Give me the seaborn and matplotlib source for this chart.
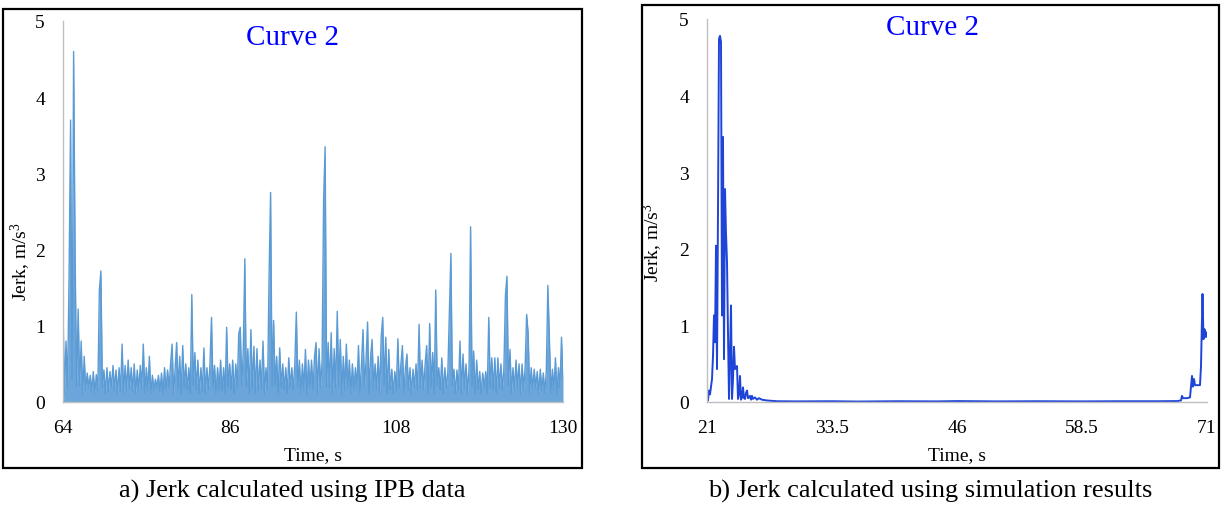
import numpy as np
import pandas as pd
import matplotlib
matplotlib.use("Agg")
import matplotlib.pyplot as plt
from matplotlib.patches import Rectangle
import seaborn as sns

# ---------------- data ----------------
# a) IPB data: jerk samples, 64 s .. 130 s (about 0.2 s apart)
ipb_jerk = [
    1.2, 0.11, 0.8, 0.2, 1.65, 3.7, 0.3, 4.6, 1.9, 0.2,
    1.22, 0.22, 0.8, 0.11, 0.6, 0.16, 0.38, 0.19, 0.35, 0.14,
    0.4, 0.11, 0.36, 0.16, 1.47, 1.72, 0.2, 0.42, 0.11, 0.45,
    0.14, 0.4, 0.19, 0.48, 0.16, 0.42, 0.11, 0.45, 0.14, 0.76,
    0.11, 0.48, 0.16, 0.55, 0.19, 0.45, 0.14, 0.5, 0.11, 0.42,
    0.16, 0.48, 0.19, 0.76, 0.11, 0.45, 0.14, 0.6, 0.11, 0.35,
    0.16, 0.3, 0.19, 0.35, 0.14, 0.38, 0.11, 0.45, 0.16, 0.42,
    0.19, 0.5, 0.76, 0.11, 0.45, 0.78, 0.16, 0.6, 0.11, 0.74,
    0.19, 0.5, 0.16, 0.45, 0.11, 1.41, 0.22, 0.65, 0.16, 0.55,
    0.11, 0.45, 0.14, 0.71, 0.11, 0.45, 0.16, 0.5, 1.11, 0.19,
    0.48, 0.11, 0.45, 0.16, 0.55, 0.14, 0.45, 0.11, 0.98, 0.19,
    0.5, 0.16, 0.55, 0.11, 0.5, 0.19, 0.9, 0.98, 0.22, 0.7,
    1.88, 0.2, 0.7, 0.11, 0.95, 0.19, 0.73, 0.11, 0.7, 0.16,
    0.55, 0.19, 0.8, 0.11, 0.45, 0.16, 1.65, 2.75, 0.2, 1.07,
    0.22, 0.6, 0.11, 0.71, 0.19, 0.5, 0.16, 0.45, 0.11, 0.58,
    0.19, 0.45, 0.16, 0.5, 1.18, 0.19, 0.55, 0.11, 0.5, 0.16,
    0.69, 0.11, 0.55, 0.19, 0.55, 0.16, 0.6, 0.78, 0.11, 0.7,
    0.19, 0.55, 2.65, 3.35, 0.2, 0.78, 0.19, 0.91, 0.11, 0.7,
    0.19, 1.19, 0.22, 0.82, 0.11, 0.6, 0.16, 0.76, 0.19, 0.55,
    0.11, 0.5, 0.16, 0.45, 0.19, 0.74, 0.11, 0.5, 0.95, 0.19,
    0.55, 1.05, 0.11, 0.6, 0.82, 0.19, 0.5, 0.16, 0.6, 0.11,
    0.85, 1.11, 0.22, 0.85, 0.11, 0.69, 0.16, 0.43, 0.11, 0.4,
    0.16, 0.83, 0.19, 0.5, 0.74, 0.11, 0.45, 0.63, 0.16, 0.45,
    0.11, 0.43, 0.19, 0.5, 0.16, 1.02, 0.19, 0.55, 0.16, 0.5,
    0.74, 0.11, 1.03, 0.19, 0.65, 0.11, 1.47, 0.22, 0.45, 0.16,
    0.58, 0.11, 0.45, 0.19, 0.4, 1.2, 1.95, 0.22, 0.43, 0.11,
    0.42, 0.16, 0.8, 0.11, 0.63, 0.19, 0.5, 0.11, 0.45, 2.3,
    0.2, 0.67, 0.11, 0.55, 0.16, 0.4, 0.11, 0.38, 0.19, 0.4,
    0.11, 1.11, 0.19, 0.58, 0.16, 0.58, 0.11, 0.58, 0.19, 0.5,
    0.16, 0.45, 1.4, 1.65, 0.22, 0.69, 0.11, 0.45, 0.16, 0.55,
    0.19, 0.5, 0.11, 0.5, 0.16, 0.45, 1.15, 0.9, 0.11, 0.45,
    0.16, 0.43, 0.19, 0.4, 0.11, 0.43, 0.16, 0.38, 0.11, 0.42,
    1.53, 0.85, 0.11, 0.43, 0.16, 0.58, 0.11, 0.45, 0.19, 0.85,
    0.3,
]
ipb_time = np.linspace(64, 130, len(ipb_jerk))
ipb_xticks = [64, 86, 108, 130]

# b) simulation results
sim_time = [
    21.0, 21.1, 21.2, 21.3, 21.4, 21.5, 21.6, 21.7, 21.8, 21.9,
    22.0, 22.1, 22.2, 22.3, 22.4, 22.5, 22.6, 22.7, 22.8, 22.9,
    23.0, 23.1, 23.2, 23.3, 23.4, 23.5, 23.6, 23.7, 23.8, 23.9,
    24.0, 24.1, 24.2, 24.3, 24.4, 24.5, 24.6, 24.7, 24.8, 24.9,
    25.0, 25.1, 25.2, 25.3, 25.4, 25.5, 25.6, 25.8, 26.0, 26.2,
    26.5, 27.0, 27.5, 28.0, 30.0, 33.5, 36.0, 40.0, 44.0, 46.0,
    50.0, 54.0, 58.5, 62.0, 66.0, 68.0, 68.4, 68.5, 68.6, 68.8,
    69.0, 69.3, 69.5, 69.6, 69.7, 69.8, 70.0, 70.3, 70.4, 70.55,
    70.65, 70.75, 70.85, 70.95, 71.0,
]
sim_jerk = [
    0.04, 0.02, 0.15, 0.1, 0.2, 0.3, 0.6, 1.13, 0.78, 2.04,
    0.43, 2.5, 4.74, 4.78, 4.7, 1.13, 3.46, 0.56, 2.78, 2.2,
    1.83, 0.9, 0.04, 0.6, 1.26, 0.04, 0.3, 0.72, 0.43, 0.45,
    0.47, 0.04, 0.1, 0.34, 0.03, 0.06, 0.19, 0.05, 0.04, 0.12,
    0.15, 0.05, 0.06, 0.08, 0.03, 0.08, 0.04, 0.06, 0.03, 0.05,
    0.03, 0.02, 0.015, 0.01, 0.008, 0.01, 0.006, 0.01, 0.008, 0.012,
    0.008, 0.01, 0.008, 0.01, 0.01, 0.012, 0.02, 0.08, 0.05, 0.05,
    0.05, 0.06, 0.34, 0.2, 0.3, 0.22, 0.22, 0.22, 0.47, 1.41,
    0.82, 0.95, 0.85, 0.91, 0.85,
]
sim_xticks = [21, 33.5, 46, 58.5, 71]
sim_xticklabels = ["21", "33.5", "46", "58.5", "71"]

y_ticks = [0, 1, 2, 3, 4, 5]
curve_label = "Curve 2"
x_label = "Time, s"
y_label = "Jerk, m/s$^3$"
captions = ["a) Jerk calculated using IPB data",
            "b) Jerk calculated using simulation results"]

# ---------------- style ----------------
sns.set_theme(style="white")
plt.rcParams["font.family"] = ["Liberation Serif", "DejaVu Serif"]
plt.rcParams["mathtext.fontset"] = "custom"
plt.rcParams["mathtext.rm"] = "Liberation Serif"
plt.rcParams["mathtext.it"] = "Liberation Serif:italic"
plt.rcParams["text.color"] = "black"
plt.rcParams["axes.labelcolor"] = "black"

W, H = 1225, 506
fig = plt.figure(figsize=(W / 100, H / 100), dpi=100)

def ax_rect(x0, x1, ytop, ybot):
    return [x0 / W, 1 - ybot / H, (x1 - x0) / W, (ybot - ytop) / H]

ax1 = fig.add_axes(ax_rect(63, 563, 22, 403))
ax2 = fig.add_axes(ax_rect(707, 1207, 20, 403))

df1 = pd.DataFrame({"t": ipb_time, "j": ipb_jerk})
df2 = pd.DataFrame({"t": sim_time, "j": sim_jerk})
ipb_color = "#5B9BD5"
ax1.fill_between(df1["t"], df1["j"], 0, color=ipb_color, lw=0, alpha=0.9)
sns.lineplot(data=df1, x="t", y="j", ax=ax1, color=ipb_color, lw=1.0,
             estimator=None, sort=False)
sns.lineplot(data=df2, x="t", y="j", ax=ax2, color="#1F45D8", lw=1.4,
             estimator=None, sort=False)

gray = "#BFBFBF"
for ax, xt, xtl, (x0, x1) in [
    (ax1, ipb_xticks, [str(v) for v in ipb_xticks], (64, 130)),
    (ax2, sim_xticks, sim_xticklabels, (21, 71)),
]:
    ax.set_xlim(x0, x1)
    ax.set_ylim(0, 5)
    ax.set_xticks(xt)
    ax.set_xticklabels(xtl)
    ax.set_yticks(y_ticks)
    ax.set_yticklabels([str(v) for v in y_ticks])
    ax.tick_params(axis="both", length=0, labelsize=14, colors="black")
    ax.tick_params(axis="y", pad=13)
    ax.tick_params(axis="x", pad=12)
    for s in ["top", "right"]:
        ax.spines[s].set_visible(False)
    for s in ["left", "bottom"]:
        ax.spines[s].set_color(gray)
        ax.spines[s].set_linewidth(1.0)
    ax.set_xlabel(x_label, fontsize=14)
    ax.set_ylabel(y_label, fontsize=14)
    ax.set_facecolor("white")

ax1.xaxis.set_label_coords(0.5, -0.115)
ax2.xaxis.set_label_coords(0.5, -0.115)
ax1.yaxis.set_label_coords(-0.06, 0.37)
ax2.yaxis.set_label_coords(-0.084, 0.42)

fig.text(293 / W, 1 - 38 / H, curve_label, color="#0000FF", fontsize=21,
         ha="center", va="center")
fig.text(932 / W, 1 - 28 / H, curve_label, color="#0000FF", fontsize=21,
         ha="center", va="center")

fig.text(292 / W, 1 - 491 / H, captions[0], fontsize=19, ha="center", va="center")
fig.text(930 / W, 1 - 491 / H, captions[1], fontsize=19, ha="center", va="center")

for (x0, y0, x1, y1) in [(3, 10, 582, 469), (642, 6, 1219, 469)]:
    fig.patches.append(Rectangle((x0 / W, 1 - y1 / H), (x1 - x0) / W, (y1 - y0) / H,
                                 transform=fig.transFigure, fill=False,
                                 edgecolor="black", lw=1.6, zorder=10))

fig.savefig("out.png", dpi=100, facecolor="white")
